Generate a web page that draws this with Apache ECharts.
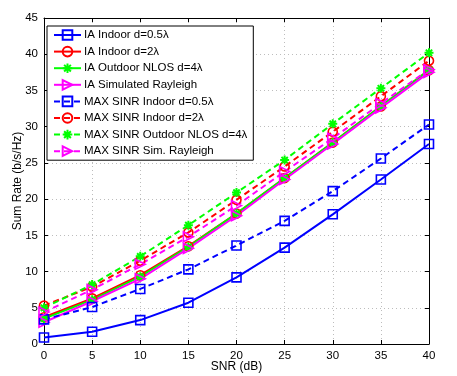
<!DOCTYPE html>
<html>
<head>
<meta charset="utf-8">
<script src="https://cdn.jsdelivr.net/npm/echarts@6/dist/echarts.min.js"></script>
<style>
  html, body { margin: 0; padding: 0; background: #fff; }
  #chart { width: 457px; height: 376px; }
</style>
</head>
<body>
<div id="chart"></div>
<script>
// SNR points (dB)
var snr = [0, 5, 10, 15, 20, 25, 30, 35, 40];

// sum rate (b/s/Hz)
var iaIndoor05 = [0.9, 1.7, 3.3, 5.7, 9.2, 13.3, 17.9, 22.7, 27.6];
var iaIndoor2 = [3.7, 6.3, 9.5, 13.5, 18.0, 22.9, 27.8, 32.8, 37.8];
var iaOutdoor4 = [3.5, 6.1, 9.3, 13.4, 18.0, 22.9, 27.8, 32.8, 37.8];
var iaRayleigh = [3.0, 5.9, 9.0, 13.2, 17.7, 22.7, 27.6, 32.6, 37.5];
var maxIndoor05 = [3.4, 5.1, 7.6, 10.3, 13.6, 17.0, 21.1, 25.6, 30.3];
var maxIndoor2 = [5.3, 7.9, 11.5, 15.4, 19.9, 24.5, 29.3, 34.2, 39.1];
var maxOutdoor4 = [5.0, 8.2, 12.1, 16.4, 20.9, 25.4, 30.4, 35.3, 40.2];
var maxRayleigh = [4.4, 7.5, 11.0, 14.8, 19.1, 23.8, 28.4, 33.2, 37.9];

var names = [
  'IA Indoor d=0.5λ',
  'IA Indoor d=2λ',
  'IA Outdoor NLOS d=4λ',
  'IA Simulated Rayleigh',
  'MAX SINR Indoor d=0.5λ',
  'MAX SINR Indoor d=2λ',
  'MAX SINR Outdoor NLOS d=4λ',
  'MAX SINR Sim. Rayleigh'
];

var FONT = 'Liberation Sans, Arial, sans-serif';
// matlab style asterisk marker
var STAR = 'path://M5,0 L5,10 M0,5 L10,5 M1.5,1.5 L8.5,8.5 M1.5,8.5 L8.5,1.5';

function pairs(vals) {
  return snr.map(function (x, i) { return [x, vals[i]]; });
}

function mkSeries(name, vals, color, marker, dashed) {
  var s = {
    name: name,
    type: 'line',
    data: pairs(vals),
    symbol: marker,
    symbolSize: 9,
    lineStyle: { color: color, width: 2, type: dashed ? [6, 4] : 'solid' },
    itemStyle: { color: 'rgba(0,0,0,0)', borderColor: color, borderWidth: 1.6 },
    emphasis: { disabled: true }
  };
  if (marker === 'triangle') {
    s.symbolRotate = -90;
    s.symbolSize = 10;
  }
  if (marker === STAR) {
    s.symbolSize = 9;
    s.itemStyle.borderWidth = 2;
  }
  return s;
}

var chart = echarts.init(document.getElementById('chart'));

var gridLine = { show: true, lineStyle: { color: '#bdbdbd', type: [1, 3], width: 1 } };
var boxLine = { show: true, onZero: false, lineStyle: { color: '#000', width: 1 } };

chart.setOption({
  animation: false,
  backgroundColor: '#fff',
  grid: { left: 44, right: 28, top: 18, bottom: 32, outerBoundsMode: 'none' },
  legend: {
    orient: 'vertical',
    left: 47,
    top: 26,
    padding: [3, 6, 3, 6],
    itemGap: 4.6,
    itemWidth: 27,
    itemHeight: 12,
    backgroundColor: '#fff',
    borderColor: '#000',
    borderWidth: 1,
    textStyle: { fontFamily: FONT, fontSize: 11.5, color: '#000', padding: [0, 0, 0, -2] },
    data: names
  },
  xAxis: [{
    type: 'value',
    min: 0, max: 40, interval: 5,
    name: 'SNR (dB)',
    nameLocation: 'middle',
    nameGap: 17,
    nameMoveOverlap: false,
    nameTextStyle: { fontFamily: FONT, fontSize: 12, color: '#000' },
    axisLine: boxLine,
    axisTick: { inside: true, length: 4, lineStyle: { color: '#000' } },
    axisLabel: { fontFamily: FONT, fontSize: 11.5, color: '#000', margin: 6 },
    splitLine: gridLine
  }, {
    type: 'value',
    position: 'top',
    min: 0, max: 40, interval: 5,
    axisLine: boxLine,
    axisTick: { inside: true, length: 4, lineStyle: { color: '#000' } },
    axisLabel: { show: false },
    splitLine: { show: false }
  }],
  yAxis: [{
    type: 'value',
    min: 0, max: 45, interval: 5,
    name: 'Sum Rate (b/s/Hz)',
    nameLocation: 'middle',
    nameGap: 20,
    nameMoveOverlap: false,
    nameTextStyle: { fontFamily: FONT, fontSize: 12, color: '#000' },
    axisLine: boxLine,
    axisTick: { inside: true, length: 4, lineStyle: { color: '#000' } },
    axisLabel: { fontFamily: FONT, fontSize: 11.5, color: '#000', margin: 6 },
    splitLine: gridLine
  }, {
    type: 'value',
    position: 'right',
    min: 0, max: 45, interval: 5,
    axisLine: boxLine,
    axisTick: { inside: true, length: 4, lineStyle: { color: '#000' } },
    axisLabel: { show: false },
    splitLine: { show: false }
  }],
  series: [
    mkSeries(names[0], iaIndoor05, '#0000ff', 'rect', false),
    mkSeries(names[1], iaIndoor2, '#ff0000', 'circle', false),
    mkSeries(names[2], iaOutdoor4, '#00ff00', STAR, false),
    mkSeries(names[3], iaRayleigh, '#ff00ff', 'triangle', false),
    mkSeries(names[4], maxIndoor05, '#0000ff', 'rect', true),
    mkSeries(names[5], maxIndoor2, '#ff0000', 'circle', true),
    mkSeries(names[6], maxOutdoor4, '#00ff00', STAR, true),
    mkSeries(names[7], maxRayleigh, '#ff00ff', 'triangle', true)
  ]
});
</script>
</body>
</html>
